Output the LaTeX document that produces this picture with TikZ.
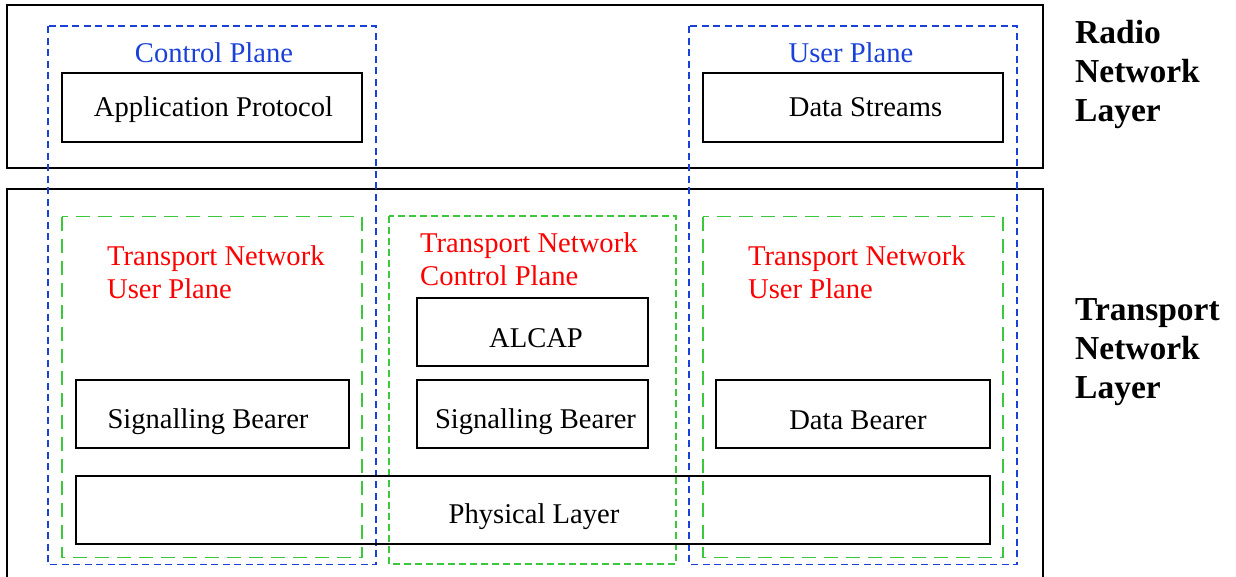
\documentclass[tikz,border=0pt]{standalone}
\usepackage{fontspec}
\setmainfont{Liberation Serif}
\definecolor{planeblue}{RGB}{25,65,215}
\definecolor{tngreen}{RGB}{60,200,60}
\begin{document}
\begin{tikzpicture}[x=1pt,y=-1pt,line join=miter,
    layerbox/.style={draw=black,line width=2},
    protobox/.style={draw=black,line width=2},
    planebox/.style={draw=planeblue,line width=1.8,dash pattern=on 7 off 4.5},
    tnbox/.style={draw=tngreen,line width=1.8,dash pattern=on 14 off 8},
    tnboxmid/.style={draw=tngreen,line width=1.8,dash pattern=on 7 off 4},
    txt/.style={inner sep=0,anchor=base,font=\fontsize{28.6}{33}\selectfont},
    planetxt/.style={txt,text=planeblue},
    tntxt/.style={txt,text=red,anchor=base west,align=left},
    layertxt/.style={inner sep=0,anchor=base west,align=left,
      font=\fontsize{33.5}{39}\selectfont\bfseries}]
  \clip (0,0) rectangle (1236,576);

  % layers
  \draw [layerbox] (7,5) rectangle (1043,168);
  \draw [layerbox] (7,600) -- (7,189) -- (1043,189) -- (1043,600);
  \node [layertxt] (rnl) at (1075,121) {Radio\\Network\\Layer};
  \node [layertxt] (tnl) at (1075,398) {Transport\\Network\\Layer};

  % control / user plane
  \foreach \x in {48,689}
    \draw [planebox] (\x,26) rectangle (\x+328,564.5);
  \node [planetxt] (cp) at (214,62) {Control Plane};
  \node [planetxt] (up) at (851,62) {User Plane};

  % transport network planes
  \draw [tnbox] (62,216.5) rectangle (362,557.5);
  \draw [tnboxmid] (389,216) rectangle (676,564);
  \draw [tnbox] (703,216.5) rectangle (1003,557.5);
  \node [tntxt] (tnup1) at (107,298) {Transport Network\\User Plane};
  \node [tntxt] (tncp) at (420,285) {Transport Network\\Control Plane};
  \node [tntxt] (tnup2) at (748,298) {Transport Network\\User Plane};

  % protocol boxes
  \draw [protobox] (62,73) rectangle (362,141.5);
  \draw [protobox] (703,73) rectangle (1003,141.5);
  \draw [protobox] (417,298) rectangle (648,366);
  \draw [protobox] (76,380) rectangle (349,448);
  \draw [protobox] (417,380) rectangle (648,448);
  \draw [protobox] (716,380) rectangle (990,448);
  \draw [protobox] (76,476) rectangle (990,543.5);
  \node [txt] (ap) at (213.5,116) {Application Protocol};
  \node [txt] (ds) at (865.5,116) {Data Streams};
  \node [txt] (alcap) at (536,347) {ALCAP};
  \node [txt] (sb1) at (208,428) {Signalling Bearer};
  \node [txt] (sb2) at (535.5,428) {Signalling Bearer};
  \node [txt] (db) at (858,429) {Data Bearer};
  \node [txt] (phy) at (534,523) {Physical Layer};
\end{tikzpicture}
\end{document}
